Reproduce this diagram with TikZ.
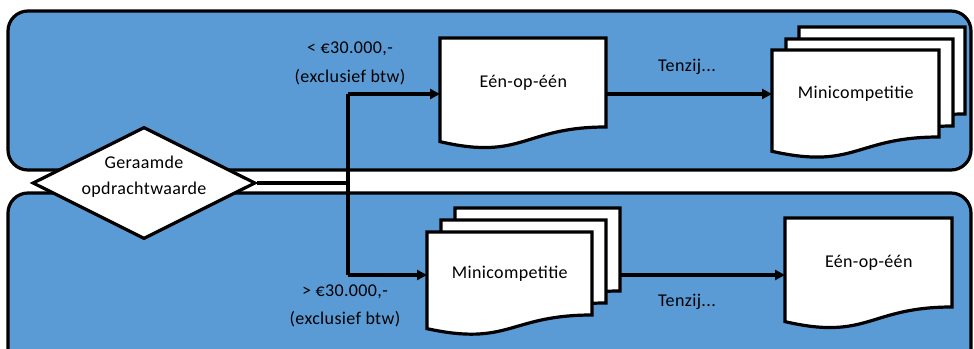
\documentclass[tikz,border=0pt]{standalone}
\usepackage{fontspec}
\setmainfont{Carlito}[LetterSpace=2]
\usetikzlibrary{arrows.meta,shapes.geometric,calc}
\definecolor{lanefill}{HTML}{5B9BD5}
\newcommand\docshape[6]{%
  \draw[docst] (#2,#3) -- ({#2+#4},#3) -- ({#2+#4},{#3+#5})
    .. controls ({#2+#4/2},{#3+#5}) and ({#2+#4/2},{#3+#5*1.381}) .. (#2,{#3+#5*1.1645}) -- cycle;
  \node[inner sep=0pt, minimum width=#4*0.75pt, minimum height=#5*0.75pt, anchor=north west, font=\lbl] (#1) at (#2,#3) {#6};
}
\newcommand\lbl{\fontsize{13.5}{16}\selectfont}
\tikzset{
  lane/.style={draw=black, line width=2.4pt, fill=lanefill, rounded corners=15pt},
  docst/.style={draw=black, line width=2.4pt, fill=white, line join=miter},
  conn/.style={draw=black, line width=2.4pt},
  arr/.style={conn, -{Triangle[length=7.5pt,width=7.5pt]}},
  txt/.style={font=\lbl, inner sep=0pt, align=center},
}
\begin{document}
\begin{tikzpicture}[x=0.75pt, y=-0.75pt]
\useasboundingbox (0,0) rectangle (974,349);
\clip (0,0) rectangle (974,349);
% lanes
\path[lane] (8,11) rectangle (971,170);
\path[lane] (8,193) rectangle (971,380);
% diamond
\node[diamond, draw=black, line width=2.4pt, fill=white, minimum width=223*0.75pt, minimum height=112*0.75pt, inner sep=0pt, aspect=2] (dia) at (144,183) {};
\node[txt] (diat1) at (144,162) {Geraamde};
\node[txt] (diat2) at (144,190) {opdrachtwaarde};
% junction coordinates
\coordinate (j0) at (348,183);
\coordinate (j1) at (348,94);
\coordinate (j2) at (348,275);
% top lane documents
\docshape{een1}{440}{38}{166}{89}{Eén-op-één}
\docshape{mini1c}{799}{27}{166}{87}{}
\docshape{mini1b}{786}{39}{167}{87}{}
\docshape{mini1}{772}{50}{167}{87}{Minicompetitie}
% bottom lane documents
\docshape{mini2c}{455}{208}{165}{83}{}
\docshape{mini2b}{441}{220}{165}{83}{}
\docshape{mini2}{427}{232}{165}{83}{Minicompetitie}
\docshape{een2}{785}{218}{167}{89}{Eén-op-één}
% connectors
\draw[conn] (dia.east) -- (j0);
\draw[conn] (j1) -- (j2);
\draw[arr] (j1) -- (j1 -| een1.west);
\draw[arr] (j2) -- (j2 -| mini2.west);
\draw[arr] (j1 -| een1.east) -- (j1 -| mini1.west);
\draw[arr] (j2 -| mini2c.east) -- (j2 -| een2.west);
% labels
\node[txt] (l1a) at (350,49) {< €30.000,-};
\node[txt] (l1b) at (350,77) {(exclusief btw)};
\node[txt] (l2a) at (345,292) {> €30.000,-};
\node[txt] (l2b) at (345,319) {(exclusief btw)};
\node[txt] (t1) at (687,67) {Tenzij...};
\node[txt] (t2) at (687,302) {Tenzij...};
\end{tikzpicture}
\end{document}
